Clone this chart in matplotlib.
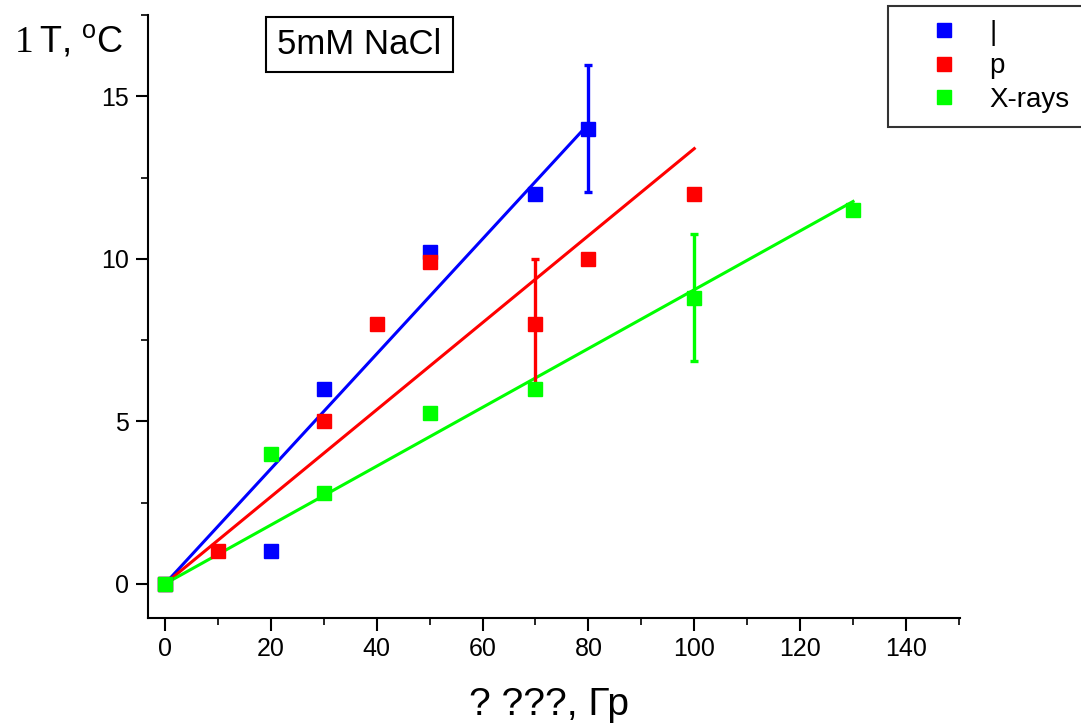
import numpy as np
import matplotlib
matplotlib.use("Agg")
import matplotlib.pyplot as plt
from matplotlib.ticker import MultipleLocator

# ---- data ----
gamma_x = [0, 20, 30, 50, 70, 80]
gamma_y = [0, 1, 6, 10.2, 12, 14]
gamma_err_x = [80]
gamma_err_y = [14]
gamma_err = [1.95]

proton_x = [0, 10, 30, 40, 50, 70, 80, 100]
proton_y = [0, 1, 5, 8, 9.9, 8, 10, 12]
proton_err_x = [70]
proton_err_y = [8]
proton_err = [2.0]

xray_x = [0, 20, 30, 50, 70, 100, 130]
xray_y = [0, 4, 2.8, 5.25, 6, 8.8, 11.5]
xray_err_x = [100]
xray_err_y = [8.8]
xray_err = [1.95]

labels = ["|", "p", "X-rays"]
colors = ["#0000ff", "#ff0000", "#00ff00"]

sans = "Liberation Sans"
serif = "Liberation Serif"

fig = plt.figure(figsize=(10.81, 7.28), dpi=100)
ax = fig.add_axes([148/1081, 1-618/728, (960-148)/1081, (618-15)/728])

series = [
    (gamma_x, gamma_y, gamma_err_x, gamma_err_y, gamma_err),
    (proton_x, proton_y, proton_err_x, proton_err_y, proton_err),
    (xray_x, xray_y, xray_err_x, xray_err_y, xray_err),
]
handles = []
for (x, y, ex, ey, ee), c, lab in zip(series, colors, labels):
    xa = np.array(x, float); ya = np.array(y, float)
    slope = np.sum(xa*ya)/np.sum(xa*xa)
    xf = np.array([0, xa.max()])
    ax.plot(xf, slope*xf, color=c, lw=2.2, zorder=2)
    ax.errorbar(ex, ey, yerr=ee, fmt='none', ecolor=c, elinewidth=2.4, capsize=3, capthick=2.4, zorder=3)
    h, = ax.plot(x, y, 's', color=c, ms=10, mec=c, zorder=4, label=lab)
    handles.append(h)

ax.set_xlim(-3.2, 150.2)
ax.set_ylim(-1.05, 17.5)
ax.xaxis.set_major_locator(MultipleLocator(20))
ax.xaxis.set_minor_locator(MultipleLocator(10))
ax.yaxis.set_major_locator(MultipleLocator(5))
ax.yaxis.set_minor_locator(MultipleLocator(2.5))
ax.spines['top'].set_visible(False)
ax.spines['right'].set_visible(False)
for s in ['left', 'bottom']:
    ax.spines[s].set_linewidth(1.5)
ax.tick_params(which='major', direction='out', length=9, width=1.5, labelsize=18, pad=5)
ax.tick_params(which='minor', direction='out', length=5, width=1.2)
for lbl in ax.get_xticklabels() + ax.get_yticklabels():
    lbl.set_fontfamily(sans)

# y label
fig.text(15/1081, 1-52/728, "1", family=serif, fontsize=27, va='baseline', ha='left')
fig.text(39/1081, 1-52/728, r"T, $^{\mathregular{o}}$C", family=sans, fontsize=26, va='baseline', ha='left')
# x label
fig.text(549/1081, 1-715/728, "? ???, Гр", family=sans, fontsize=28, va='baseline', ha='center')

# annotation box
ax.text((359.5-148)/812, (618-44.5)/603, "5mM NaCl", transform=ax.transAxes, family=sans, fontsize=25,
        ha='center', va='center',
        bbox=dict(boxstyle='square,pad=0.33', fc='white', ec='black', lw=1.5))

leg = fig.legend(handles=handles, loc='upper left', bbox_to_anchor=(888/1081, 1-6/728),
                 frameon=True, fancybox=False, edgecolor='black', prop={'family': sans, 'size': 20},
                 handlelength=3.05, handletextpad=0.1, borderpad=0.5, labelspacing=0.27,
                 borderaxespad=0, markerscale=1.0)
leg.get_frame().set_linewidth(1.5)

fig.savefig("out.png", dpi=100)
